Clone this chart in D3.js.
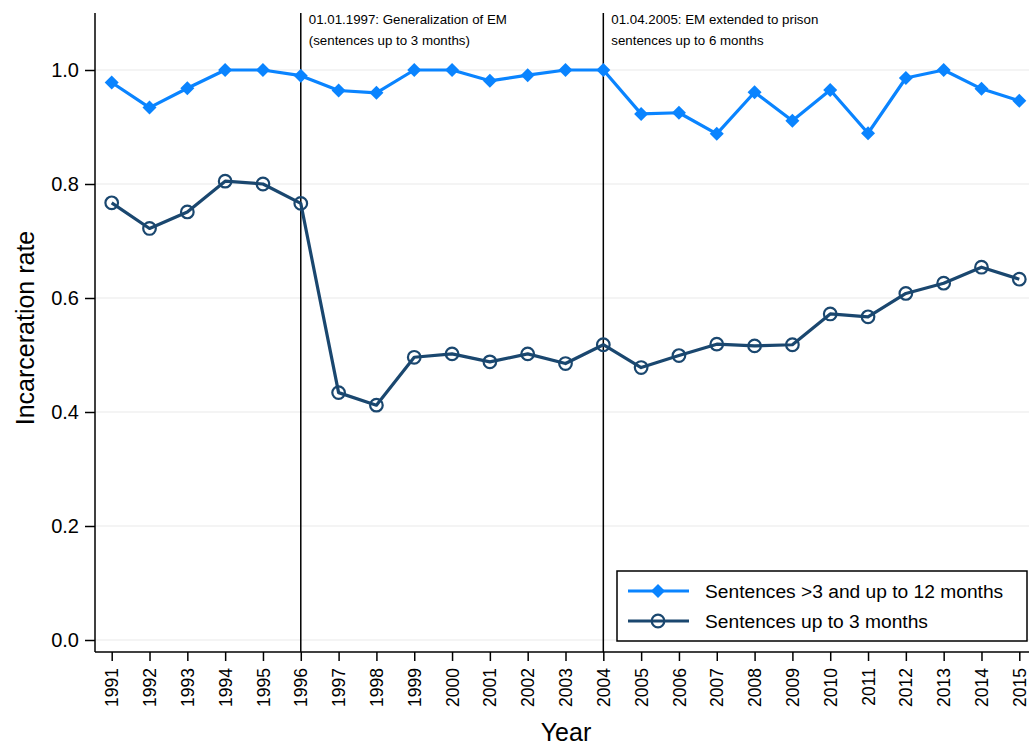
<!DOCTYPE html>
<html><head><meta charset="utf-8">
<script src="https://cdn.jsdelivr.net/npm/d3@7"></script>
<style>body{margin:0;background:#fff}svg{display:block;font-family:"Liberation Sans",Arial,sans-serif}</style>
</head><body><svg id="c" width="1029" height="747"></svg>
<script>
const years = [1991,1992,1993,1994,1995,1996,1997,1998,1999,2000,2001,2002,2003,2004,2005,2006,2007,2008,2009,2010,2011,2012,2013,2014,2015];
const longSentences = [0.978,0.934,0.968,1.0,1.0,0.990,0.964,0.960,1.0,1.0,0.981,0.991,1.0,1.0,0.923,0.925,0.888,0.961,0.911,0.965,0.889,0.986,1.0,0.967,0.946];
const shortSentences = [0.767,0.722,0.751,0.805,0.800,0.766,0.434,0.412,0.496,0.502,0.488,0.502,0.485,0.518,0.478,0.499,0.519,0.516,0.518,0.572,0.567,0.608,0.626,0.654,0.633];
const yTicks = [0,0.2,0.4,0.6,0.8,1.0];
const eventYears = [1996,2004];
const eventLabels = [["01.01.1997: Generalization of EM","(sentences up to 3 months)"],["01.04.2005: EM extended to prison","sentences up to 6 months"]];
const seriesNames = ["Sentences >3 and up to 12 months","Sentences up to 3 months"];
const colLong = "#0a84ff", colShort = "#1a476f";

(function(){
const svg = d3.select("#c");
const pL = 95, pR = 1036, pT = 13, pB = 652;
const x = d3.scalePoint().domain(years).range([111.7, 1019.3]);
const y = d3.scaleLinear().domain([0,1]).range([640,70]);

// gridlines
svg.append("g").selectAll("line").data(yTicks).join("line")
  .attr("x1", pL).attr("x2", pR).attr("y1", d=>y(d)).attr("y2", d=>y(d))
  .attr("stroke", "#eaeaea").attr("stroke-width", 1.2);

// y axis
const yAx = svg.append("g").attr("transform", `translate(${pL},0)`)
  .call(d3.axisLeft(y).tickValues(yTicks).tickFormat(d3.format(".1f")).tickSize(10).tickPadding(6));
yAx.select(".domain").remove();
yAx.selectAll("text").attr("font-size", 20).attr("fill", "#000").attr("font-family", '"Liberation Sans",Arial,sans-serif');
yAx.selectAll("line").attr("stroke", "#000").attr("stroke-width", 1.5);
svg.append("line").attr("x1", pL).attr("x2", pL).attr("y1", pT).attr("y2", pB).attr("stroke", "#000").attr("stroke-width", 1.5);

// x axis
const xAx = svg.append("g").attr("transform", `translate(0,${pB})`)
  .call(d3.axisBottom(x).tickSize(9).tickPadding(0));
xAx.select(".domain").remove();
xAx.selectAll("line").attr("stroke", "#000").attr("stroke-width", 1.5);
xAx.selectAll("text").attr("font-size", 17.5).attr("fill", "#000").attr("font-family", '"Liberation Sans",Arial,sans-serif')
  .attr("text-anchor", "end").attr("transform", "translate(0,16) rotate(-90)").attr("dy", "0.35em").attr("y", 0).attr("x", 0);
svg.append("line").attr("x1", pL).attr("x2", pR).attr("y1", pB).attr("y2", pB).attr("stroke", "#000").attr("stroke-width", 1.5);

// event lines
eventYears.forEach((ey, i) => {
  svg.append("line").attr("x1", x(ey)).attr("x2", x(ey)).attr("y1", pT).attr("y2", pB)
    .attr("stroke", "#000").attr("stroke-width", 1.5);
  const t = svg.append("text").attr("x", x(ey) + 8).attr("y", 24).attr("font-size", 13.3).attr("fill", "#000");
  eventLabels[i].forEach((s, j) => t.append("tspan").attr("x", x(ey) + 8).attr("dy", j ? 21 : 0).text(s));
});

// lines
const line = d3.line().x((d,i)=>x(years[i])).y(d=>y(d));
svg.append("path").datum(shortSentences).attr("d", line).attr("fill", "none").attr("stroke", colShort).attr("stroke-width", 3.2).attr("stroke-linejoin","round");
svg.append("g").selectAll("circle").data(shortSentences).join("circle")
  .attr("cx", (d,i)=>x(years[i])).attr("cy", d=>y(d)).attr("r", 6.3)
  .attr("fill", "none").attr("stroke", colShort).attr("stroke-width", 2.2);

svg.append("path").datum(longSentences).attr("d", line).attr("fill", "none").attr("stroke", colLong).attr("stroke-width", 3.2).attr("stroke-linejoin","round");
const diamond = "M0,-7L7,0L0,7L-7,0Z";
svg.append("g").selectAll("path").data(longSentences).join("path")
  .attr("d", diamond).attr("transform", (d,i)=>`translate(${x(years[i])},${y(d)})`).attr("fill", colLong);

// axis titles
svg.append("text").attr("x", 566).attr("y", 741).attr("text-anchor", "middle").attr("font-size", 25).attr("fill", "#000").text("Year");
svg.append("text").attr("transform", "translate(34,328) rotate(-90)").attr("text-anchor", "middle").attr("font-size", 25).attr("fill", "#000").text("Incarceration rate");

// legend
const lg = svg.append("g");
lg.append("rect").attr("x", 617).attr("y", 571).attr("width", 410).attr("height", 70).attr("fill", "#fff").attr("stroke", "#000").attr("stroke-width", 1.5);
const rows = [{c: colLong, m: "d", n: seriesNames[0], yy: 591}, {c: colShort, m: "o", n: seriesNames[1], yy: 621}];
rows.forEach(r => {
  lg.append("line").attr("x1", 628).attr("x2", 689).attr("y1", r.yy).attr("y2", r.yy).attr("stroke", r.c).attr("stroke-width", 3.2);
  if (r.m === "d") lg.append("path").attr("d", diamond).attr("transform", `translate(658,${r.yy})`).attr("fill", r.c);
  else lg.append("circle").attr("cx", 658).attr("cy", r.yy).attr("r", 6.3).attr("fill", "none").attr("stroke", r.c).attr("stroke-width", 2.2);
  lg.append("text").attr("x", 705).attr("y", r.yy + 7).attr("font-size", 19.2).attr("fill", "#000").text(r.n);
});
})();
</script></body></html>
